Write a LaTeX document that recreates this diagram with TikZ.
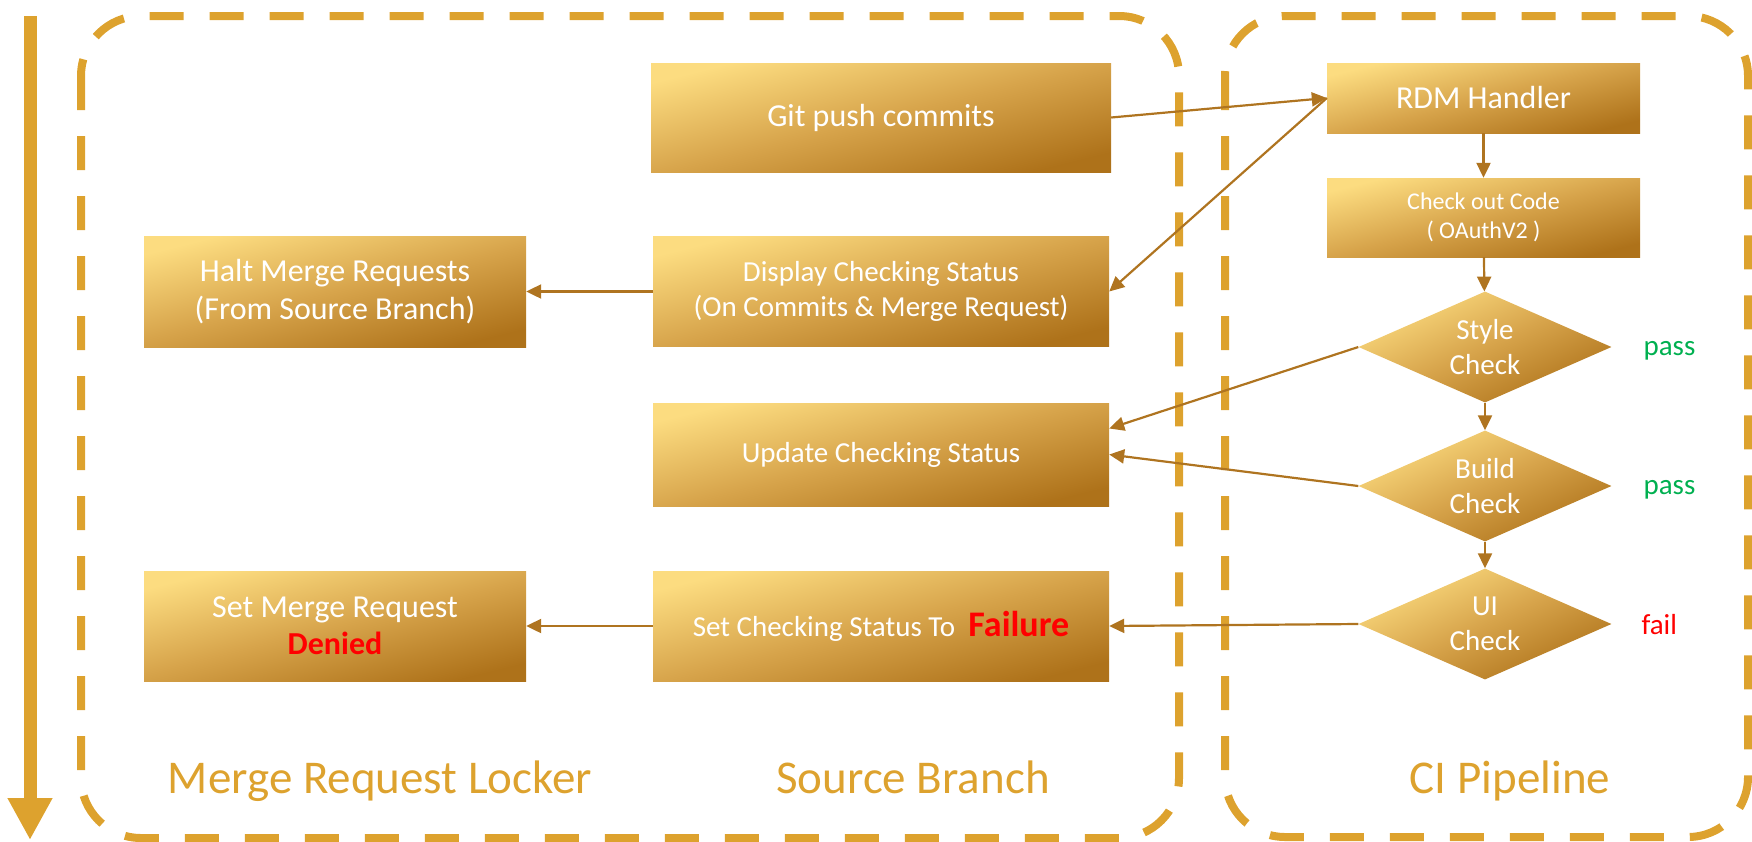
\documentclass[tikz,border=0pt]{standalone}
\usepackage{fontspec}
\setmainfont{Carlito}
\usetikzlibrary{arrows.meta, shapes.geometric}
\definecolor{gold}{HTML}{DDA22E}
\definecolor{goldlight}{HTML}{FCDC80}
\definecolor{goldmid}{HTML}{D7A44B}
\definecolor{golddark}{HTML}{AE721A}
\definecolor{linkbrown}{HTML}{AF7420}
\definecolor{passgreen}{HTML}{00B050}
\definecolor{failred}{HTML}{FF0000}

\begin{document}
\begin{tikzpicture}[x=1pt,y=-1pt,
    gbox/.style={draw=gold, line width=8pt, dash pattern=on 34pt off 26pt, rounded corners=60pt},
    goldfill/.style={top color=goldlight, bottom color=golddark, middle color=goldmid, shading angle=14, text=white, inner sep=0pt, align=center},
    proc/.style={goldfill, rectangle, minimum width=456pt, minimum height=110pt, font=\fontsize{29}{35}\selectfont},
    check/.style={goldfill, shading angle=25, diamond, aspect=2.3, minimum width=253pt, minimum height=111pt, font=\fontsize{29}{35}\selectfont},
    link/.style={draw=linkbrown, line width=2.2pt, -{Triangle[length=15pt,width=14pt]}},
    lane/.style={text=gold, anchor=base, font=\fontsize{47}{56}\selectfont},
    verdict/.style={anchor=base west, font=\fontsize{29}{35}\selectfont}]
    \useasboundingbox (0,0) rectangle (1752,841);
    % swimlanes
    \draw[gbox] (81,16) rectangle (1179,838);
    \draw[gbox] (1225,16) rectangle (1748,837);
    \coordinate (t0) at (30,16);
    \coordinate (t1) at (30,840);
    \draw[gold, line width=13pt, -{Triangle[length=42pt,width=42pt]}] (t0) -- (t1);
    % source branch / locker
    \node[proc, minimum width=460pt, minimum height=109pt, font=\fontsize{32}{38}\selectfont] (git) at (881,117.5) {Git push commits};
    \node[proc, minimum width=382pt, minimum height=111pt, font=\fontsize{32}{38}\selectfont] (halt) at (335,291.5) {Halt Merge Requests\\(From Source Branch)};
    \node[proc] (disp) at (881,291.5) {Display Checking Status\\(On Commits \& Merge Request)};
    \node[proc, minimum height=103pt] (upd) at (881,454.5) {Update Checking Status};
    \node[proc, minimum width=382pt, font=\fontsize{32}{37}\selectfont] (deny) at (335,626) {Set Merge Request\\{\bfseries\color{failred}Denied}};
    \node[proc] (fail) at (881,626) {Set Checking Status To\ \ {\fontsize{36}{35}\selectfont\bfseries\color{failred}Failure}};
    % CI pipeline
    \node[proc, minimum width=313pt, minimum height=70pt, font=\fontsize{32}{38}\selectfont] (rdm) at (1483.5,98) {RDM Handler};
    \node[proc, minimum width=313pt, minimum height=79pt, font=\fontsize{24}{29}\selectfont] (code) at (1483.5,217.5) {Check out Code\\( OAuthV2 )};
    \node[check] (style) at (1485,347) {Style\\Check};
    \node[check] (build) at (1485,486) {Build\\Check};
    \node[check] (ui) at (1485,624) {UI\\Check};
    \node[verdict, text=passgreen] (stylepass) at (1640,355) {pass};
    \node[verdict, text=passgreen] (buildpass) at (1640,494) {pass};
    \node[verdict, text=failred] (uifail) at (1638,634) {fail};
    % flow
    \draw[link] (git.east) -- (rdm.west);
    \draw[link] (rdm.west) -- (disp.east);
    \draw[link] (rdm) -- (code);
    \draw[link] (code) -- (style);
    \draw[link] (style) -- (build);
    \draw[link] (build) -- (ui);
    \draw[link] (disp) -- (halt);
    \draw[link] (style.west) -- ([yshift=26pt]upd.east);
    \draw[link] (build.west) -- (upd.east);
    \draw[link] (ui.west) -- (fail.east);
    \draw[link] (fail) -- (deny);
    % lane titles
    \node[lane] (lockerlbl) at (380,793) {Merge Request Locker};
    \node[lane] (srclbl) at (913,793) {Source Branch};
    \node[lane] (cilbl) at (1510,793) {CI Pipeline};
\end{tikzpicture}
\end{document}
